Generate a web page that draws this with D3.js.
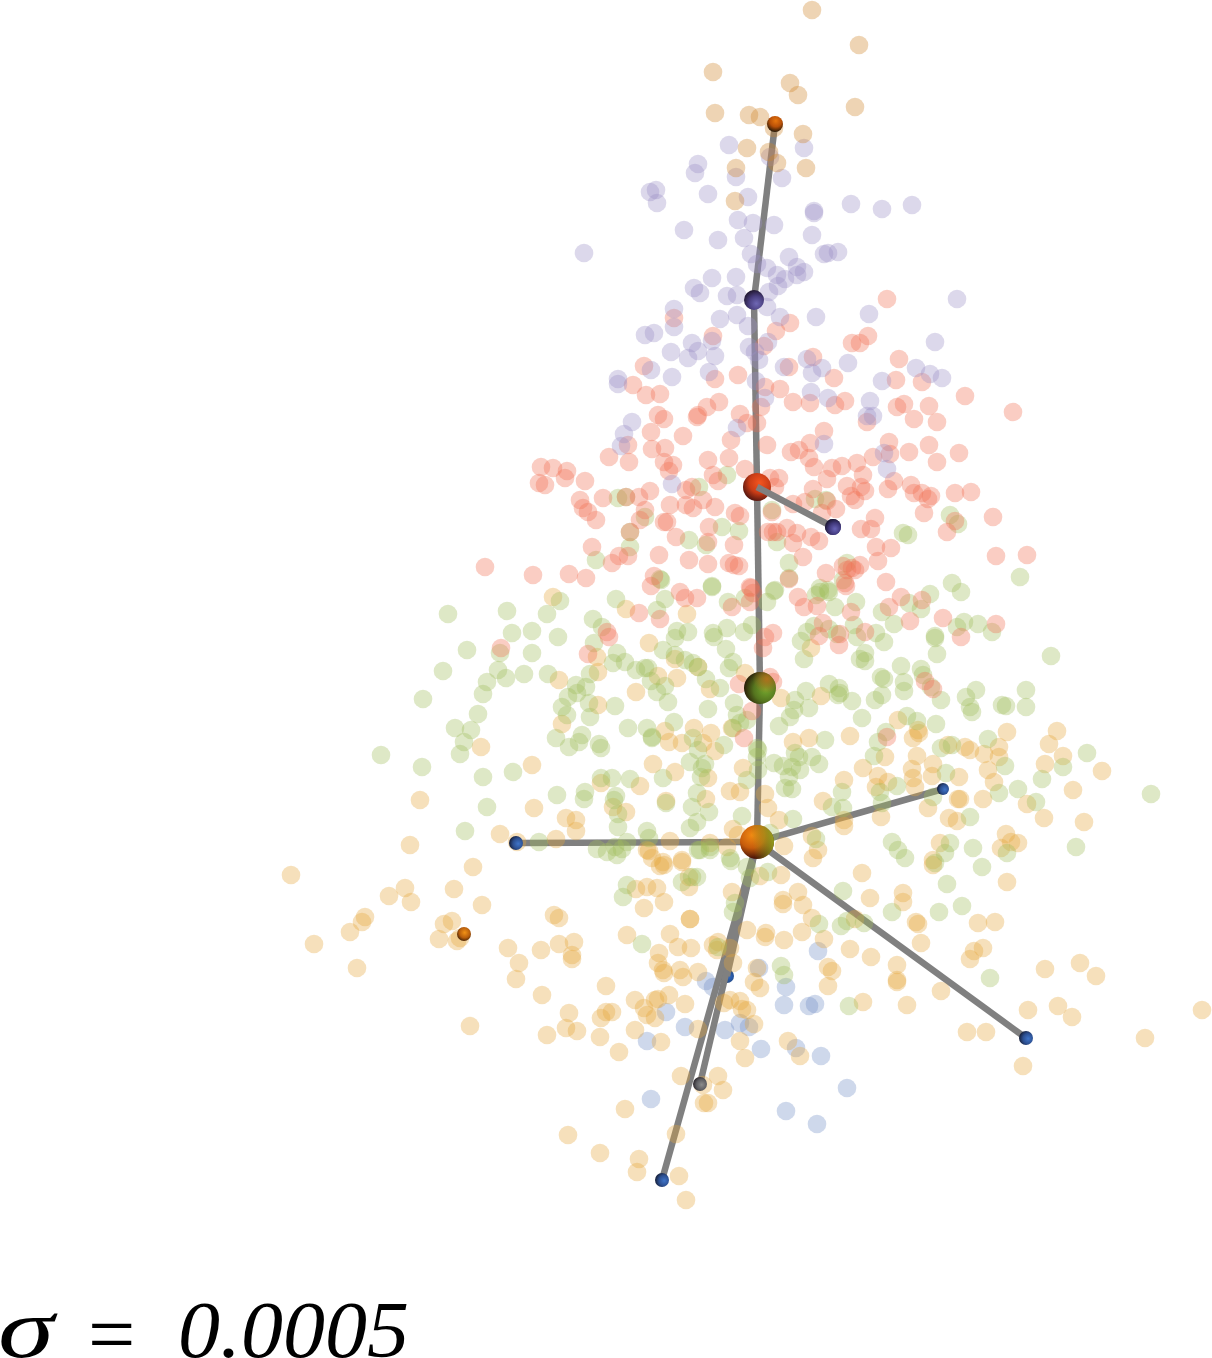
<!DOCTYPE html>
<html>
<head>
<meta charset="utf-8">
<script src="https://cdn.jsdelivr.net/npm/d3@7"></script>
<style>
  html, body { margin: 0; padding: 0; background: #fff; }
  svg { display: block; }
</style>
</head>
<body>
<svg id="grafico"></svg>
<script>
// values, one list per cluster
const tanPoints = [[812,10],[859,45],[713,72],[790,83],[798,95],[855,107],[715,113],[749,115],[760,117],[774,128],[803,134],[747,148],[769,152],[777,163],[806,168],[736,168],[735,201]];

const purplePoints = [[729,145],[804,148],[770,157],[698,164],[695,173],[736,177],[782,178],[708,194],[656,190],[650,192],[657,203],[748,197],[851,204],[882,209],[912,205],[814,211],[814,213],[738,220],[753,223],[774,225],[684,230],[812,235],[744,238],[718,240],[824,254],[828,253],[838,252],[584,253],[751,254],[789,257],[757,264],[767,268],[797,267],[804,272],[777,275],[785,279],[797,275],[778,286],[712,278],[736,277],[694,288],[700,293],[727,296],[737,295],[769,292],[957,299],
  [674,309],[674,327],[720,319],[737,315],[767,307],[780,317],[816,317],[869,314],[748,326],[645,335],[654,333],[692,343],[698,351],[712,341],[671,352],[688,358],[715,356],[749,347],[755,352],[759,360],[768,342],[935,342],[784,367],[807,359],[822,368],[812,373],[848,363],[882,381],[916,368],[930,374],[942,378],[651,370],[618,379],[618,384],[672,377],[709,372],[756,381],[765,398],[811,392],[828,398],[870,401],[867,416],[873,416],[737,428],[632,422],[624,434],[621,446],[672,484],[824,444],[884,453],[887,469]];

const redPoints = [[887,299],[790,323],[776,331],[674,318],[713,336],[868,336],[852,343],[860,343],[764,346],[813,357],[644,366],[899,359],[789,367],[896,380],[922,382],[834,378],[738,375],[715,379],[633,385],[646,395],[660,394],[765,387],[780,389],[793,402],[810,403],[835,405],[845,401],[897,407],[904,404],[929,406],[965,396],[1013,412],[914,419],[937,422],[867,422],[719,402],[707,407],[697,417],[698,415],[658,415],[664,419],[761,407],[740,414],[747,423],[757,423],[651,432],[683,436],[824,431],[731,440],[767,445],[810,443],[799,450],[791,452],[809,458],[889,442],[929,445],[909,452],[890,454],[959,453],[873,457],[628,445],[652,449],[665,448],[609,457],[629,462],[708,460],[729,458],[664,462],[673,465],[669,471],[745,469],[814,467],[832,468],[842,466],[857,463],[937,462],[863,475],[541,467],[553,468],[567,471],[565,478],[539,483],[545,485],[585,481],[713,475],[718,481],[779,478],[770,478],[775,487],[827,479],[894,481],[847,486],[861,487],[865,491],[888,489],[911,485],[914,493],[922,493],[931,496],[928,499],[955,493],[971,492],[851,496],[855,500],[813,489],[650,491],[686,490],[692,487],[603,498],[626,497],[639,497],[580,500],[583,508],[588,512],[596,520],[645,510],[640,520],[670,505],[686,505],[693,508],[703,500],[715,507],[735,513],[740,516],[772,512],[793,504],[805,502],[827,501],[822,513],[836,509],[924,513],[993,517],[875,518],[861,529],[871,529],[947,532],[955,521],[664,522],[667,522],[709,527],[787,528],[797,533],[811,537],[819,541],[793,543],[768,532],[773,532],[777,532],[676,537],[708,542],[734,545],[592,547],[876,547],[891,548],[803,557],[619,556],[612,563],[628,556],[659,555],[689,560],[708,564],[729,563],[734,565],[739,566],[878,561],[860,565],[843,566],[852,568],[996,556],[1027,555],[826,573],[533,575],[569,574],[586,578],[654,576],[651,586],[886,582],[750,587],[680,592],[845,583],[630,532],[789,579],
  [485,567],[685,598],[697,598],[639,613],[660,619],[732,607],[751,588],[750,602],[765,637],[763,648],[609,637],[607,632],[588,654],[501,648],[739,684],[752,711],[744,738],
  [847,570],[855,570],[846,586],[798,597],[804,607],[817,606],[773,633],[823,623],[819,636],[840,634],[839,645],[865,632],[851,612],[901,597],[889,607],[922,600],[910,621],[943,618],[996,624],[961,637],[925,681],[933,689],[887,737],[770,677],[773,682],[753,593]];

const greenPoints = [[727,475],[699,487],[618,498],[626,497],[645,517],[630,532],[630,547],[596,560],[722,527],[739,531],[689,540],[706,545],[772,510],[777,542],[815,499],[826,500],[950,515],[958,524],[903,533],[908,535],[660,579],[712,586],[775,590],[847,563],[843,580],[820,588],[828,590],[789,578],
  [448,614],[507,611],[547,614],[560,601],[616,599],[512,633],[532,631],[558,637],[593,619],[602,627],[594,643],[467,650],[500,653],[532,653],[443,671],[498,670],[506,678],[524,674],[548,674],[487,682],[483,694],[423,699],[478,714],[455,728],[471,730],[464,742],[460,754],[381,755],[422,767],[483,777],[513,772],[487,807],[465,831],[539,842],[576,685],[586,687],[577,693],[568,697],[562,707],[567,715],[589,703],[590,717],[615,706],[590,674],[617,653],[613,663],[625,662],[636,670],[645,668],[648,668],[651,681],[663,650],[675,638],[677,631],[688,632],[713,633],[714,637],[727,628],[726,649],[712,587],[665,599],[657,610],[661,580],[728,602],[745,598],[744,632],[752,625],[733,662],[729,668],[675,655],[685,660],[698,667],[693,663],[657,692],[665,686],[668,702],[706,679],[720,688],[708,709],[674,722],[628,728],[647,728],[652,737],[652,738],[582,735],[579,742],[556,738],[569,747],[599,744],[601,748],[734,703],[737,715],[740,723],[733,728],[747,720],[693,738],[698,750],[724,745],[690,762],[705,764],[702,768],[701,777],[663,778],[630,779],[612,778],[601,778],[585,792],[584,799],[557,795],[616,796],[614,800],[618,814],[618,827],[697,793],[692,807],[709,812],[697,822],[690,828],[742,816],[757,748],[757,757],[758,770],[747,780],[666,803],[647,831],[649,838],[627,842],[597,849],[607,852],[615,847],[622,849],[617,855],[700,850],[710,850],[730,858],
  [789,563],[774,591],[767,602],[820,592],[829,592],[816,595],[835,607],[856,602],[854,625],[814,626],[807,632],[801,641],[804,659],[829,629],[837,634],[857,637],[876,633],[884,642],[865,653],[860,659],[865,661],[882,612],[894,624],[909,603],[921,609],[930,594],[952,583],[961,592],[1020,577],[957,627],[964,622],[978,624],[992,632],[935,636],[935,638],[937,654],[1051,656],[901,666],[921,669],[923,675],[881,677],[884,679],[904,682],[904,691],[882,695],[875,700],[931,687],[941,700],[976,690],[966,697],[970,707],[972,712],[1026,690],[1026,707],[1002,705],[1006,706],[829,684],[839,688],[840,693],[838,695],[852,701],[806,691],[795,700],[809,708],[794,710],[790,717],[779,726],[862,718],[907,716],[917,721],[936,724],[886,732],[878,742],[874,756],[825,740],[795,753],[799,757],[812,757],[819,764],[774,763],[783,766],[792,767],[800,770],[789,777],[785,788],[792,789],[758,750],[941,748],[952,745],[988,739],[946,773],[897,786],[880,792],[842,792],[882,803],[843,808],[832,807],[793,819],[1005,766],[1018,789],[999,793],[1042,779],[1063,767],[1087,753],[1151,794],[1036,802],[933,797],[970,817],[892,842],[898,850],[905,858],[950,843],[945,853],[973,848],[1076,847],[1007,853],[816,839],[770,833],
  [843,891],[819,924],[841,926],[847,921],[864,923],[892,912],[939,912],[962,906],[947,884],[982,867],[935,863],[768,872],[750,878],[990,978],[781,966],[784,975],[849,1006],
  [627,885],[623,897],[642,944],[682,882],[697,877],[692,877],[731,861],[735,903],[733,912],[718,947],[747,867],[710,847],[698,850]];

const orangePoints = [[553,597],[626,609],[687,614],[649,643],[597,657],[598,672],[675,659],[698,667],[745,673],[559,680],[658,676],[677,678],[636,692],[710,689],[598,705],[562,724],[481,747],[532,765],[665,731],[694,728],[711,733],[669,742],[682,743],[703,743],[715,751],[732,728],[653,764],[675,772],[743,768],[708,778],[640,786],[601,783],[730,791],[740,792],[706,799],[666,801],[420,800],[613,807],[626,812],[534,808],[566,818],[576,820],[576,831],[500,834],[410,845],[556,839],[670,841],[710,843],[733,829],[738,835],[647,850],[652,858],[663,862],[682,860],[727,847],[517,842],
  [811,648],[793,742],[809,738],[850,736],[821,696],[781,698],[898,720],[918,730],[919,733],[913,738],[1007,732],[1057,731],[1049,744],[1063,756],[1045,764],[1102,771],[948,745],[965,747],[970,750],[984,754],[999,747],[999,757],[988,770],[994,782],[917,756],[933,764],[912,769],[959,777],[932,776],[913,778],[915,787],[863,768],[878,776],[888,782],[876,787],[885,757],[844,780],[958,799],[960,799],[983,799],[928,808],[1073,790],[1027,804],[1044,818],[1084,822],[949,818],[957,821],[881,817],[844,820],[844,826],[823,801],[765,794],[768,808],[779,820],[784,846],[812,836],[818,850],[813,858],[940,843],[1006,834],[1011,842],[1018,843],[1001,848],[933,860],
  [862,873],[1007,882],[933,865],[781,875],[760,876],[798,892],[783,900],[783,904],[803,905],[870,898],[903,893],[903,902],[812,918],[916,922],[918,924],[978,923],[995,922],[855,919],[747,930],[766,933],[765,937],[784,940],[802,932],[824,939],[921,943],[850,949],[974,951],[983,948],[970,959],[871,957],[897,965],[1045,969],[1080,963],[1096,976],[828,967],[832,971],[828,986],[897,980],[897,982],[757,968],[754,982],[760,988],[941,991],[863,1002],[907,1005],[1028,1010],[1058,1006],[1072,1017],[1202,1010],[967,1032],[986,1032],[1145,1038],[1023,1066],[742,1009],[747,1010],[754,1024],[740,1041],[788,1041],[800,1056],[745,1058],
  [291,875],[473,867],[405,888],[389,896],[411,902],[454,889],[482,905],[365,917],[362,922],[350,932],[314,944],[452,921],[444,924],[439,939],[457,941],[460,938],[357,968],[554,915],[559,918],[508,948],[541,950],[559,944],[574,942],[572,955],[572,959],[519,963],[516,979],[542,995],[470,1026],[606,986],[569,1013],[566,1028],[577,1031],[547,1035],[601,1018],[606,1012],[612,1012],[600,1037],[619,1052],[635,1000],[644,1008],[647,1015],[655,1018],[655,1000],[658,999],[669,995],[685,1004],[635,1030],[661,1042],[698,1029],[627,935],[644,908],[664,902],[636,889],[647,887],[657,888],[660,866],[664,865],[649,851],[682,862],[689,877],[689,887],[732,892],[690,919],[690,919],[670,934],[678,947],[691,948],[659,953],[658,963],[663,970],[664,973],[680,970],[683,977],[698,972],[713,945],[718,942],[717,950],[730,948],[733,963],[724,1003],[730,1000],[740,1001],[681,1076],[718,1076],[723,1090],[703,1085],[704,1103],[708,1103],[625,1109],[676,1134],[568,1135],[600,1153],[639,1159],[637,1172],[679,1176],[686,1200]];

const bluePoints = [[818,951],[759,968],[786,987],[784,1005],[809,1006],[815,1004],[749,1027],[740,1023],[761,1049],[796,1048],[821,1056],[847,1088],[786,1111],[817,1124],[706,981],[713,987],[666,1012],[685,1027],[647,1041],[651,1099],[725,1030]];

// tree nodes: position, size and which sphere
const nodeNames = ["topo", "roxo", "vermelho", "roxoB", "verde", "centro", "azulA", "azulB", "azulC", "laranja", "azulD", "cinza", "azulE"];
const nodeX = [775, 754, 757, 833, 760, 757, 943, 516, 1026, 464, 727, 700, 662];
const nodeY = [124, 300, 487, 527, 688, 842, 789, 843, 1038, 934, 976, 1084, 1180];
const nodeSize = [8, 10, 14, 8, 16, 17, 6, 7, 7, 7, 7, 7, 7];
const edgePairs = [["topo", "roxo"], ["roxo", "vermelho"], ["vermelho", "verde"], ["verde", "centro"], ["centro", "azulA"], ["centro", "azulB"], ["centro", "azulC"], ["centro", "azulD"], ["centro", "cinza"], ["centro", "azulE"]];
const frontEdges = [["vermelho", "roxoB"]];

const largura = 1212;
const altura = 1358;

let svg = d3.select("#grafico")
    .attr("width", largura)
    .attr("height", altura);

let fnX = d3.scaleLinear().domain([0, 1212]).range([0, largura]);
let fnY = d3.scaleLinear().domain([0, 1358]).range([0, altura]);
let fnR = d3.scaleLinear().domain([0, 10]).range([0, 10]);

// sphere shading, one gradient per node
const esferas = {
    topo: ["#e8760e", "#b85008", "#2e1c08", 0.55, 0.3],
    roxo: ["#6f68b4", "#4a3f80", "#241a35", 0.62, 0.68],
    vermelho: ["#f4551f", "#c93c16", "#521610", 0.6, 0.35],
    roxoB: ["#6a64b8", "#40387a", "#17122a", 0.62, 0.62],
    verde: ["#74a82e", "#55751f", "#2a1c08", 0.68, 0.55],
    centro: ["#f28a12", "#c75c0c", "#4a1408", 0.35, 0.3],
    azulA: ["#3f74c8", "#2c4f90", "#141a30", 0.66, 0.55],
    azulB: ["#3f74c8", "#2c4f90", "#141a30", 0.66, 0.55],
    azulC: ["#3f74c8", "#2c4f90", "#141a30", 0.66, 0.55],
    laranja: ["#f29216", "#b85e0c", "#2a1404", 0.55, 0.4],
    azulD: ["#2f68c4", "#27508f", "#141a30", 0.66, 0.55],
    cinza: ["#8c8c8c", "#5e5e62", "#201a20", 0.62, 0.55],
    azulE: ["#3f74c8", "#2c4f90", "#141a30", 0.66, 0.55]
};

let defs = svg.append("defs");
nodeNames.forEach(nome => {
    let e = esferas[nome];
    let g = defs.append("radialGradient")
        .attr("id", "esfera-" + nome)
        .attr("cx", e[3]).attr("cy", e[4]).attr("r", 0.68)
        .attr("fx", e[3]).attr("fy", e[4]);
    g.append("stop").attr("offset", "0%").attr("stop-color", e[0]);
    g.append("stop").attr("offset", "55%").attr("stop-color", e[1]);
    g.append("stop").attr("offset", "100%").attr("stop-color", e[2]);
});

// green side of the central sphere, orange touch on the green one
let tintaVerde = defs.append("linearGradient").attr("id", "tinta-verde")
    .attr("x1", 0.35).attr("y1", 0.45).attr("x2", 1).attr("y2", 0.35);
tintaVerde.append("stop").attr("offset", "0%").attr("stop-color", "#9aa820").attr("stop-opacity", 0);
tintaVerde.append("stop").attr("offset", "100%").attr("stop-color", "#9aa820").attr("stop-opacity", 0.95);
let tintaLaranja = defs.append("radialGradient").attr("id", "tinta-laranja")
    .attr("cx", 0.72).attr("cy", 0.22).attr("r", 0.45);
tintaLaranja.append("stop").attr("offset", "0%").attr("stop-color", "#b9701c").attr("stop-opacity", 0.9);
tintaLaranja.append("stop").attr("offset", "100%").attr("stop-color", "#b9701c").attr("stop-opacity", 0);

function desenhaPontos(dados, cor, classe) {
    svg.append("g").selectAll("." + classe)
        .data(dados)
        .enter()
        .append("circle")
        .classed(classe, true)
        .attr("cx", d => fnX(d[0]))
        .attr("cy", d => fnY(d[1]))
        .attr("r", fnR(9.3))
        .attr("fill", cor)
        .attr("fill-opacity", 0.35);
}

function desenhaArestas(pares) {
    svg.append("g").selectAll("line")
        .data(pares)
        .enter()
        .append("line")
        .attr("x1", d => fnX(nodeX[nodeNames.indexOf(d[0])]))
        .attr("y1", d => fnY(nodeY[nodeNames.indexOf(d[0])]))
        .attr("x2", d => fnX(nodeX[nodeNames.indexOf(d[1])]))
        .attr("y2", d => fnY(nodeY[nodeNames.indexOf(d[1])]))
        .attr("stroke", "#808080")
        .attr("stroke-width", 6.5);
}

function desenhaNos(nomes) {
    svg.append("g").selectAll("circle")
        .data(nomes)
        .enter()
        .append("circle")
        .attr("cx", d => fnX(nodeX[nodeNames.indexOf(d)]))
        .attr("cy", d => fnY(nodeY[nodeNames.indexOf(d)]))
        .attr("r", d => fnR(nodeSize[nodeNames.indexOf(d)]))
        .attr("fill", d => "url(#esfera-" + d + ")");
}

// the blue cluster sits behind the edges, the other clusters in front
desenhaPontos(bluePoints, "#7390c6", "azul");
desenhaNos(["azulD"]);
desenhaArestas(edgePairs);
desenhaPontos(orangePoints, "#e5a63d", "laranja");
desenhaPontos(greenPoints, "#a1bd5c", "verde");
desenhaPontos(redPoints, "#f17054", "vermelho");
desenhaPontos(purplePoints, "#9b90c6", "roxo");
desenhaPontos(tanPoints, "#ce8429", "bege");
desenhaNos(nodeNames.filter(n => n !== "azulD"));

svg.append("circle")
    .attr("cx", fnX(nodeX[5])).attr("cy", fnY(nodeY[5])).attr("r", fnR(nodeSize[5]))
    .attr("fill", "url(#tinta-verde)");
svg.append("circle")
    .attr("cx", fnX(nodeX[4])).attr("cy", fnY(nodeY[4])).attr("r", fnR(nodeSize[4]))
    .attr("fill", "url(#tinta-laranja)");

desenhaArestas(frontEdges);
desenhaNos(["roxoB"]);

// label, set piece by piece like the typeset original
let rotulo = svg.append("g")
    .attr("font-family", "'Liberation Serif', serif")
    .attr("font-style", "italic")
    .attr("fill", "#000");
rotulo.append("text").attr("x", -2).attr("y", 1357).attr("font-size", 84)
    .attr("textLength", 56).attr("lengthAdjust", "spacingAndGlyphs").text("σ");
rotulo.append("text").attr("x", 88).attr("y", 1363).attr("font-size", 84).attr("font-style", "normal").text("=");
rotulo.append("text").attr("x", 178).attr("y", 1357).attr("font-size", 80)
    .attr("textLength", 231).attr("lengthAdjust", "spacingAndGlyphs").text("0.0005");
</script>
</body>
</html>
